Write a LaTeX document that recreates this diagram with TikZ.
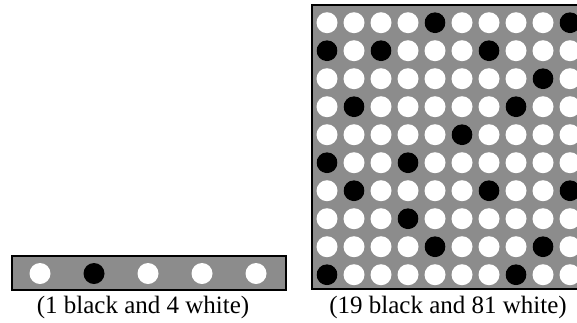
\documentclass[tikz,border=0pt]{standalone}
\usepackage{fontspec}
\setmainfont{Liberation Serif}
\begin{document}
\begin{tikzpicture}[x=1pt,y=-1pt,
  panel/.style={draw=black,line width=2pt,fill=boxgray},
  wdot/.style={circle,fill=white,inner sep=0pt,minimum size=21pt},
  bdot/.style={circle,fill=black,inner sep=0pt,minimum size=21pt},
  caption/.style={inner sep=0pt,anchor=base,font=\fontsize{25}{29}\selectfont}]
\definecolor{boxgray}{RGB}{140,140,140}
\useasboundingbox (0,0) rectangle (577,322);
\clip (0,0) rectangle (577,322);
% left panel
\draw[panel] (11.7,256) rectangle (286,290);
\foreach \k in {0,...,4}{
  \ifnum\k=1
    \node[bdot] (l\k) at (40+54*\k,273.5) {};
  \else
    \node[wdot] (l\k) at (40+54*\k,273.5) {};
  \fi
}
\node[caption] (lcap) at (143,313.5) {(1 black and 4 white)};
% right panel
\draw[panel] (311.5,5) rectangle (584,288.5);
\foreach \r/\blacks in {1/{5,10},2/{1,3,7},3/{9},4/{2,8},5/{6},6/{1,4},7/{2,7,10},8/{4},9/{5,9},10/{1,8}}{
  \foreach \c in {1,...,10}{
    \node[wdot] (g-\r-\c) at (327+27*\c-27,22.7+28*\r-28) {};
  }
  \foreach \c in \blacks{
    \node[bdot] (b-\r-\c) at (327+27*\c-27,22.7+28*\r-28) {};
  }
}
\node[caption] (rcap) at (448,313.5) {(19 black and 81 white)};
\end{tikzpicture}
\end{document}
